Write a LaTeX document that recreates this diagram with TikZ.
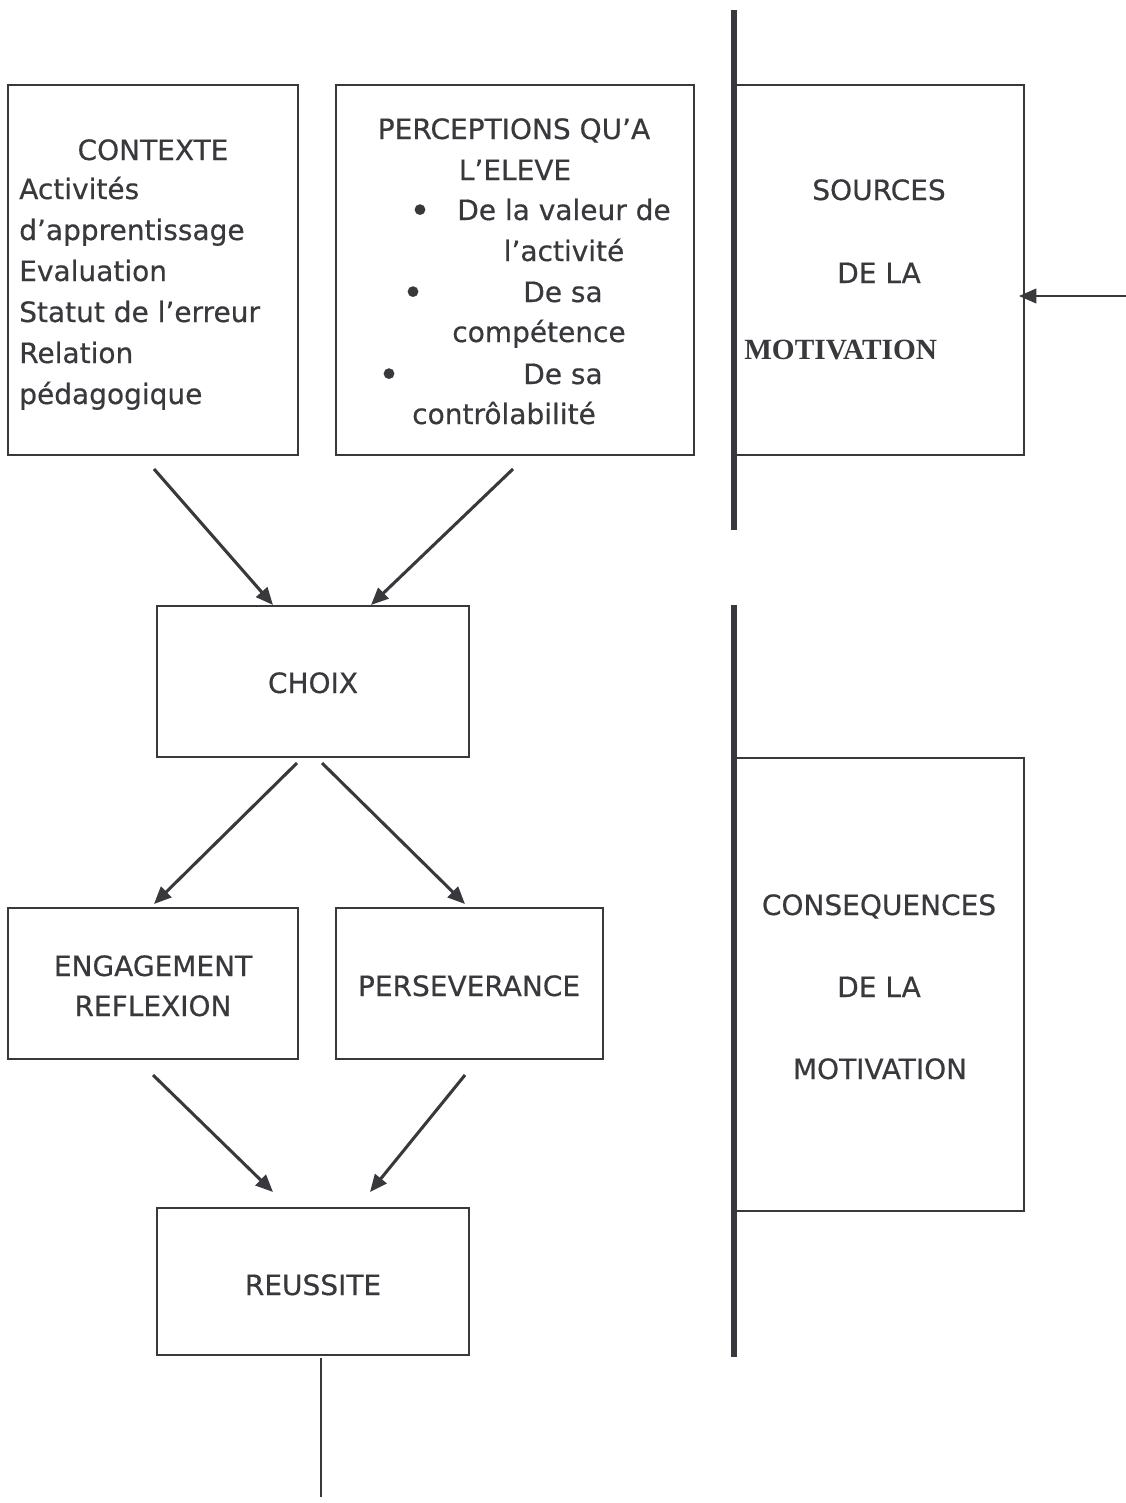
\documentclass[tikz,border=0pt]{standalone}
\usepackage{fontspec}
\setmainfont[FakeBold=0.5]{DejaVu Sans}
\newfontfamily\timesbold{Liberation Serif}
\usetikzlibrary{arrows.meta,fit}
\definecolor{ink}{RGB}{57,57,61}
\begin{document}
\begin{tikzpicture}[x=0.75pt,y=-0.75pt,
  box/.style={draw=ink, line width=1.5pt, inner sep=0pt, rectangle},
  txt/.style={inner sep=0pt, text=ink, font=\fontsize{21}{30.75}\selectfont},
  bul/.style={inner sep=0pt, text=ink, font=\fontsize{27}{30}\selectfont},
  arr/.style={draw=ink, line width=2.3pt, -{Triangle[length=13pt,width=11pt]}},
  thinarr/.style={draw=ink, line width=1.4pt, -{Triangle[length=13pt,width=11pt]}},
  rail/.style={draw=ink, line width=4pt},
]
\useasboundingbox[fill=white] (0,0) rectangle (1126,1503);

% boxes
\node[box, fit={(8,85) (298,455)}] (ctx) {};
\node[box, fit={(336,85) (694,455)}] (perc) {};
\node[box, fit={(734,85) (1024,455)}] (src) {};
\node[box, fit={(157,606) (469,757)}] (choix) {};
\node[box, fit={(8,908) (298,1059)}] (eng) {};
\node[box, fit={(336,908) (603,1059)}] (pers) {};
\node[box, fit={(157,1208) (469,1355)}] (reus) {};
\node[box, fit={(734,758) (1024,1211)}] (cons) {};

% box texts
\node[txt, anchor=base] (choixt) at (313,693) {CHOIX};
\node[txt, anchor=base] (engt1) at (153,976) {ENGAGEMENT};
\node[txt, anchor=base] (engt2) at (153,1016) {REFLEXION};
\node[txt, anchor=base] (perst) at (469,996) {PERSEVERANCE};
\node[txt, anchor=base] (reust) at (313,1295) {REUSSITE};

% rails
\coordinate (r1t) at (734,10);
\coordinate (r1b) at (734,530);
\coordinate (r2t) at (734,605);
\coordinate (r2b) at (734,1357);
\draw[rail] (r1t) -- (r1b);
\draw[rail] (r2t) -- (r2b);

% CONTEXTE text
\node[txt, anchor=base] (ctxh) at (153,160) {CONTEXTE};
\foreach \t [count=\i] in {Activités, d’apprentissage, Evaluation, Statut de l’erreur, Relation, pédagogique}
  \node[txt, anchor=base west] (ctx\i) at (19,{199+41*(\i-1)}) {\t};

% PERCEPTIONS text
\node[txt, anchor=base] (p1) at (514,139) {PERCEPTIONS QU’A};
\node[txt, anchor=base] (p2) at (515,180) {L’ELEVE};
\node[txt, anchor=base] (p3) at (564,220) {De la valeur de};
\node[txt, anchor=base] (p4) at (564,261) {l’activité};
\node[txt, anchor=base] (p5) at (563,302) {De sa};
\node[txt, anchor=base] (p6) at (539,342) {compétence};
\node[txt, anchor=base] (p7) at (563,384) {De sa};
\node[txt, anchor=base] (p8) at (504,424) {contrôlabilité};
\node[bul, anchor=base] (b1) at (420,223) {\textbullet};
\node[bul, anchor=base] (b2) at (413,305) {\textbullet};
\node[bul, anchor=base] (b3) at (389,387) {\textbullet};

% SOURCES text
\node[txt, anchor=base] (s1) at (879,200) {SOURCES};
\node[txt, anchor=base] (s2) at (879,283) {DE LA};
\node[inner sep=0pt, text=ink, anchor=base west, font=\timesbold\bfseries\fontsize{22}{26}\selectfont] (s3) at (744,359) {MOTIVATION};

% CONSEQUENCES text
\node[txt, anchor=base] (c1) at (879,915) {CONSEQUENCES};
\node[txt, anchor=base] (c2) at (879,997) {DE LA};
\node[txt, anchor=base] (c3) at (880,1079) {MOTIVATION};

% arrows
\coordinate (inR) at (1126,296);
\draw[thinarr] (inR) -- ([shift={(-6,26)}]src.east);
\draw[arr] ([shift={(1,13)}]ctx.south) -- ([shift={(-40,0)}]choix.north);
\draw[arr] ([shift={(-2,13)}]perc.south) -- ([shift={(58,0)}]choix.north);
\draw[arr] ([shift={(-16,5)}]choix.south) -- ([shift={(1,-3)}]eng.north);
\draw[arr] ([shift={(9,5)}]choix.south) -- ([shift={(-4.5,-3)}]pers.north);
\draw[arr] ([shift={(0,15)}]eng.south) -- ([shift={(-40,-15)}]reus.north);
\draw[arr] ([shift={(-4.5,15)}]pers.south) -- ([shift={(57,-15)}]reus.north);
\coordinate (endline) at (321,1497);
\draw[draw=ink, line width=2.2pt] ([shift={(8,2)}]reus.south) -- (endline);
\end{tikzpicture}
\end{document}
